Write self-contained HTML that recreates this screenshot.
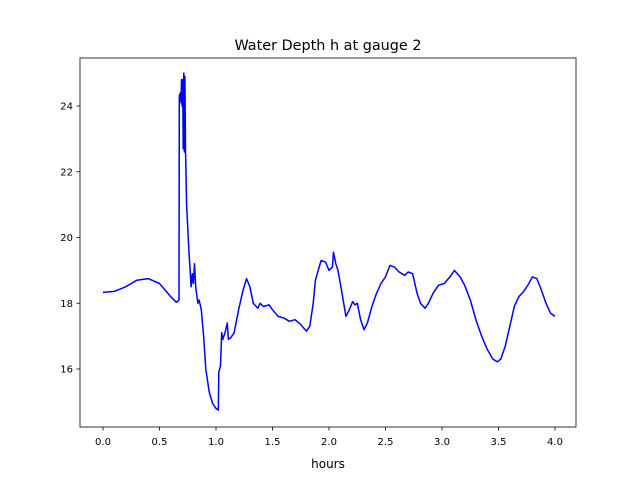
<!DOCTYPE html>
<html><head><meta charset="utf-8"><style>
body{margin:0;background:#fff}
text{font-family:"DejaVu Sans","Liberation Sans",sans-serif;fill:#000}
</style></head><body>
<svg id="chart" width="640" height="480" xmlns="http://www.w3.org/2000/svg">
<rect width="640" height="480" fill="#fff"/>
<text x="328" y="50" font-size="14.4" text-anchor="middle">Water Depth h at gauge 2</text>
<text x="328" y="468" font-size="12" text-anchor="middle">hours</text>
<g id="ticks"></g>
<path id="series" fill="none" stroke="#0000ff" stroke-width="1.5" stroke-linejoin="round"/>
<rect x="80" y="58" width="496" height="369" fill="none" stroke="#000" stroke-width="0.8"/>
</svg>
<script>
const times=[0,0.1,0.2,0.3,0.4,0.5,0.6,0.65,0.673,0.675,0.685,0.69,0.695,0.7,0.705,0.71,0.715,0.72,0.725,0.73,0.74,0.76,0.78,0.79,0.8,0.81,0.82,0.84,0.85,0.87,0.89,0.91,0.94,0.97,1.0,1.02,1.025,1.04,1.05,1.06,1.08,1.1,1.11,1.13,1.16,1.2,1.24,1.27,1.3,1.33,1.37,1.39,1.42,1.47,1.5,1.55,1.6,1.65,1.7,1.75,1.8,1.83,1.86,1.88,1.93,1.97,2.0,2.03,2.04,2.06,2.08,2.12,2.15,2.18,2.21,2.23,2.25,2.28,2.31,2.34,2.38,2.42,2.46,2.5,2.54,2.58,2.62,2.67,2.7,2.74,2.78,2.81,2.85,2.88,2.92,2.97,3.02,3.07,3.11,3.16,3.2,3.25,3.3,3.35,3.4,3.45,3.49,3.52,3.56,3.6,3.64,3.68,3.72,3.76,3.8,3.84,3.88,3.92,3.96,4.0];
const depths=[18.33,18.36,18.5,18.7,18.75,18.6,18.2,18.03,18.1,24.3,24.4,24.1,24.8,24.0,24.8,22.7,25.0,22.6,24.9,22.7,21.0,19.6,18.5,18.9,18.6,19.2,18.5,18.0,18.1,17.8,17.0,16.0,15.3,14.95,14.8,14.75,15.9,16.1,17.1,16.9,17.1,17.4,16.9,16.95,17.1,17.8,18.4,18.75,18.5,18.0,17.85,18.0,17.9,17.95,17.8,17.6,17.55,17.45,17.5,17.35,17.15,17.3,18.0,18.7,19.3,19.25,19.0,19.1,19.55,19.2,19.0,18.2,17.6,17.8,18.05,17.95,18.0,17.5,17.2,17.4,17.9,18.3,18.6,18.8,19.15,19.1,18.95,18.85,18.95,18.9,18.3,18.0,17.85,18.0,18.3,18.55,18.6,18.8,19.0,18.8,18.55,18.1,17.5,17.0,16.6,16.3,16.22,16.3,16.7,17.3,17.9,18.2,18.35,18.55,18.8,18.75,18.4,18.0,17.7,17.6];
const xTicks=["0.0","0.5","1.0","1.5","2.0","2.5","3.0","3.5","4.0"];
const yTicks=[16,18,20,22,24];
const xs=t=>103+t*113;
const ys=h=>106+(24-h)*32.875;
const NS="http://www.w3.org/2000/svg";
const g=document.getElementById('ticks');
xTicks.forEach(l=>{const x=xs(parseFloat(l));
 const ln=document.createElementNS(NS,'line');
 
 
 ln.setAttribute('x1',x);ln.setAttribute('x2',x);ln.setAttribute('y1',427);ln.setAttribute('y2',430.5);ln.setAttribute('stroke','#000');ln.setAttribute('stroke-width','0.8');g.appendChild(ln);
 const t=document.createElementNS(NS,'text');
 
 
 t.setAttribute('x',x);t.setAttribute('y',445);t.setAttribute('font-size','10');t.setAttribute('text-anchor','middle');t.textContent=l;g.appendChild(t);});
yTicks.forEach(v=>{const y=ys(v);
 const ln=document.createElementNS(NS,'line');
 
 
 ln.setAttribute('x1',76.5);ln.setAttribute('x2',80);ln.setAttribute('y1',y);ln.setAttribute('y2',y);ln.setAttribute('stroke','#000');ln.setAttribute('stroke-width','0.8');g.appendChild(ln);
 const t=document.createElementNS(NS,'text');
 
 
 t.setAttribute('x',73);t.setAttribute('y',y+3.5);t.setAttribute('font-size','10');t.setAttribute('text-anchor','end');t.textContent=v;g.appendChild(t);});
document.getElementById('series').setAttribute('d',times.map((t,i)=>(i?'L':'M')+xs(t).toFixed(1)+','+ys(depths[i]).toFixed(1)).join(''));
</script>
</body></html>
